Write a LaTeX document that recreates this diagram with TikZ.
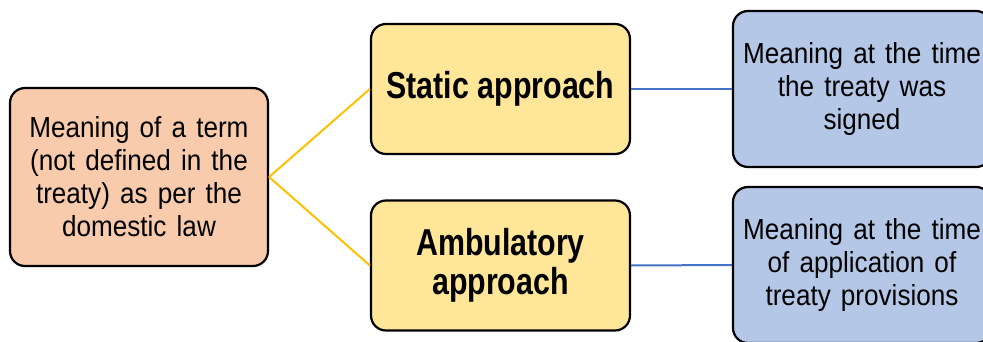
\documentclass[tikz,border=0pt]{standalone}
\usepackage{fontspec}
\setmainfont{Liberation Sans}[FakeStretch=0.9,WordSpace=1.4]
\newfontfamily\headfont{Liberation Sans}[FakeStretch=0.81]
\usepackage{xcolor}
\usetikzlibrary{positioning}
\definecolor{peach}{HTML}{F8CBAD}
\definecolor{sand}{HTML}{FFE699}
\definecolor{sky}{HTML}{B4C7E7}
\definecolor{gold}{HTML}{FFC000}
\definecolor{steel}{HTML}{4472C4}

\begin{document}
\begin{tikzpicture}[x=1pt,y=1pt,
box/.style={draw=black,line width=2.2pt,rounded corners=15pt,align=center,inner sep=0pt},
term/.style={box,fill=peach,minimum width=258pt,minimum height=178pt,font=\fontsize{29}{33}\selectfont},
appr/.style={box,fill=sand,minimum width=259pt,minimum height=130pt,font=\headfont\bfseries\fontsize{37.5}{39}\selectfont},
mean/.style={box,fill=sky,minimum width=258pt,minimum height=156pt,font=\fontsize{29}{33}\selectfont},
yl/.style={gold,line width=2pt},
bl/.style={steel,line width=2pt}]
\clip (0,0) rectangle (983,341);
\node[term] (dom) at (139,164) {Meaning of a term\\(not defined in the\\treaty) as per the\\domestic law};
\node[appr] (stat) at (500.5,252) {Static approach};
\node[appr] (amb) at (500.5,75.5) {Ambulatory\\approach};
\node[mean] (signed) at (862,252) {Meaning at the time\\the treaty was\\signed};
\node[mean] (appl) at (862,76) {Meaning at the time\\of application of\\treaty provisions};
\draw[yl] (dom.east)--(stat.west);
\draw[yl] (dom.east)--(amb.west);
\draw[bl] (stat.east)--(signed.west);
\draw[bl] (amb.east)--(appl.west);
\end{tikzpicture}
\end{document}
